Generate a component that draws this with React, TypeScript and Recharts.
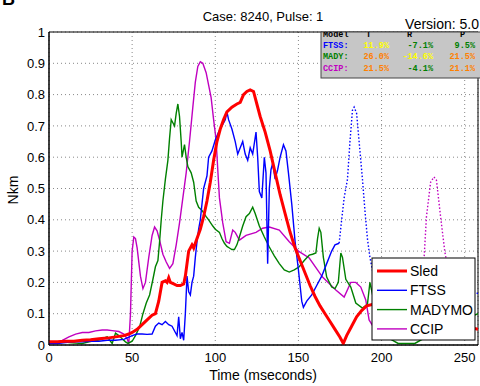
import { CartesianGrid, Line, LineChart, ReferenceArea, XAxis, YAxis } from "recharts";

// [time ms, Nkm]
const sled: [number, number][] = [
  [0, 0.01], [5, 0.01], [10, 0.012], [15, 0.012], [20, 0.015], [25, 0.017], [30, 0.02], [35, 0.022],
  [40, 0.026], [45, 0.03], [48, 0.035], [50, 0.04], [53, 0.05], [56, 0.065], [59, 0.08], [62, 0.095],
  [64, 0.1], [66, 0.14], [67, 0.17], [68, 0.2], [70, 0.205], [71, 0.2], [72, 0.215], [73, 0.2],
  [75, 0.195], [77, 0.19], [79, 0.19], [81, 0.195], [82, 0.22], [84, 0.3], [86, 0.32], [87, 0.31],
  [89, 0.34], [91, 0.37], [93, 0.41], [95, 0.46], [97, 0.52], [99, 0.59], [101, 0.65], [103, 0.69],
  [105, 0.72], [107, 0.745], [110, 0.76], [113, 0.77], [115, 0.775], [117, 0.8], [119, 0.81], [121, 0.815],
  [123, 0.81], [125, 0.77], [127, 0.73], [130, 0.68], [133, 0.62], [136, 0.55], [139, 0.48], [142, 0.42],
  [145, 0.36], [148, 0.31], [151, 0.27], [154, 0.23], [157, 0.19], [160, 0.155], [163, 0.125], [166, 0.1],
  [169, 0.075], [172, 0.05], [175, 0.025], [177, 0.005], [179, 0.03], [182, 0.06], [185, 0.09], [188, 0.11],
  [191, 0.125], [195, 0.13], [200, 0.13], [215, 0.11], [235, 0.08], [258, 0.05],
];

const ftss: [number, number][] = [
  [0, 0.005], [5, 0.005], [10, 0.008], [15, 0.01], [20, 0.01], [25, 0.012], [30, 0.012], [35, 0.015],
  [40, 0.015], [45, 0.018], [48, 0.025], [50, 0.03], [53, 0.035], [56, 0.035], [59, 0.034], [62, 0.035],
  [64, 0.06], [66, 0.07], [68, 0.065], [70, 0.075], [72, 0.065], [74, 0.06], [76, 0.04], [77, 0.03],
  [78, 0.09], [79, 0.02], [80, 0.04], [81, 0.015], [82, 0.1], [83, 0.22], [84, 0.17], [85, 0.16],
  [86, 0.2], [87, 0.22], [88, 0.28], [89, 0.33], [90, 0.37], [91, 0.4], [92, 0.45], [93, 0.5],
  [95, 0.54], [96, 0.6], [98, 0.62], [100, 0.655], [102, 0.68], [104, 0.7], [106, 0.72], [107, 0.745],
  [108, 0.72], [110, 0.69], [112, 0.65], [113.5, 0.61], [115, 0.63], [116.5, 0.65], [118, 0.61], [119.5, 0.59],
  [121, 0.63], [122.5, 0.61], [124.5, 0.68], [125.5, 0.6], [126.5, 0.49], [128, 0.47], [129.5, 0.6], [130.5, 0.55],
  [131.5, 0.26], [132.5, 0.5], [133.5, 0.56], [134.5, 0.58], [136, 0.53], [137.5, 0.56], [139, 0.6], [141, 0.64],
  [142.5, 0.62], [144, 0.55], [146, 0.45], [148, 0.33], [150, 0.24], [152, 0.14], [153, 0.12], [155, 0.14],
  [158, 0.16], [161, 0.19], [164, 0.22], [167, 0.26], [170, 0.3], [172, 0.32], [174.5, 0.325],
];

const ftssDotted: [number, number][] = [
  [174.5, 0.325], [176, 0.4], [177.5, 0.47], [179.5, 0.53], [181, 0.65], [182.5, 0.75], [183.5, 0.76],
  [185, 0.74], [186.5, 0.65], [188.5, 0.53], [190, 0.43], [191.5, 0.34], [193, 0.28], [196, 0.2],
  [200, 0.16], [230, 0.17], [258, 0.165],
];

const madymo: [number, number][] = [
  [0, 0.005], [5, 0.008], [8, 0.012], [12, 0.008], [16, 0.006], [20, 0.005], [24, 0.01], [28, 0.014],
  [30, 0.016], [32, 0.02], [35, 0.026], [37, 0.012], [38, 0.005], [40, 0.038], [42, 0.03], [44, 0.02],
  [46, 0.01], [47.5, 0.005], [50, 0.012], [52, 0.03], [54.5, 0.058], [56.5, 0.1], [58.5, 0.134], [60.5, 0.16],
  [62.5, 0.21], [64, 0.25], [65.5, 0.27], [66.5, 0.33], [67.5, 0.4], [68.5, 0.46], [70, 0.53], [71.5, 0.59],
  [72.5, 0.66], [73.5, 0.72], [74.5, 0.71], [75.5, 0.7], [76.5, 0.74], [77.5, 0.77], [78.5, 0.73], [79.5, 0.65],
  [80, 0.6], [81.5, 0.64], [82.5, 0.6], [83.5, 0.57], [85.5, 0.55], [87, 0.52], [88.5, 0.46], [90, 0.44],
  [92, 0.43], [94.5, 0.41], [96, 0.4], [98.5, 0.38], [100, 0.37], [102.5, 0.36], [104, 0.34], [105.5, 0.325],
  [107, 0.315], [108.5, 0.31], [110, 0.305], [111.5, 0.305], [113, 0.32], [114.5, 0.345], [116.5, 0.38], [118.5, 0.41],
  [120.5, 0.42], [122.5, 0.44], [124, 0.42], [126.5, 0.38], [129.5, 0.345], [132.5, 0.313], [135.5, 0.285], [138.5, 0.26],
  [141.5, 0.24], [144.5, 0.233], [147.5, 0.24], [150.5, 0.25], [153.5, 0.27], [156.5, 0.287], [158.5, 0.29], [160.5, 0.294],
  [161.5, 0.34], [162.5, 0.373], [163.5, 0.36], [165, 0.28], [167, 0.217], [170, 0.185], [172, 0.18], [174, 0.2],
  [175.5, 0.294], [176.5, 0.28], [178.5, 0.21], [181.5, 0.185], [184.5, 0.134], [188.5, 0.118], [191.5, 0.13], [193, 0.2],
  [195, 0.15], [200, 0.1], [205, 0.02], [210, 0.005], [220, 0.005], [235, 0.05], [258, 0.1],
];

const ccip: [number, number][] = [
  [0, 0.005], [4, 0.008], [8, 0.015], [12, 0.026], [16, 0.035], [20, 0.04], [24, 0.04], [28, 0.045],
  [32, 0.048], [35, 0.048], [38, 0.046], [42, 0.043], [45, 0.035], [47, 0.02], [48, 0.005], [49, 0.1],
  [50, 0.3], [51, 0.345], [52, 0.34], [53, 0.31], [55, 0.22], [56.5, 0.18], [58, 0.2], [60, 0.28],
  [62, 0.35], [63.5, 0.377], [65, 0.365], [66.5, 0.335], [68.5, 0.29], [70.5, 0.265], [72.5, 0.245], [74.5, 0.26],
  [76.5, 0.32], [78.5, 0.39], [80.5, 0.47], [82.5, 0.55], [84.5, 0.65], [86.5, 0.76], [88, 0.84], [89.5, 0.89],
  [91, 0.905], [92.5, 0.9], [94.5, 0.87], [96, 0.83], [97.5, 0.79], [99, 0.72], [100.5, 0.655], [101.5, 0.56],
  [102.5, 0.47], [104.5, 0.39], [106.5, 0.33], [108.5, 0.325], [110.5, 0.367], [112, 0.36], [114.5, 0.335], [118.5, 0.35],
  [124.5, 0.36], [128.5, 0.373], [132.5, 0.377], [138.5, 0.367], [144.5, 0.33], [150, 0.3], [156.5, 0.278], [164.5, 0.217],
  [172.5, 0.176], [177.5, 0.153], [181.5, 0.2], [184.5, 0.2], [187.5, 0.185], [190.5, 0.144], [192.5, 0.08], [196, 0.05],
  [210, 0.04], [222, 0.05],
];

const ccipDotted: [number, number][] = [
  [222, 0.05], [224, 0.15], [225.5, 0.27], [227, 0.41], [229.5, 0.52], [231.5, 0.537], [233, 0.527],
  [235.5, 0.41], [238, 0.3], [239, 0.27], [241, 0.15], [243, 0.05],
];

const xTicks = [0, 50, 100, 150, 200, 250];
const yTicks = [0, 0.1, 0.2, 0.3, 0.4, 0.5, 0.6, 0.7, 0.8, 0.9, 1];

const legendNames = ["Sled", "FTSS", "MADYMO", "CCIP"];
const legendColors = ["#ff0000", "#0000ff", "#008000", "#c000c0"];

const statModels = ["FTSS:", "MADY:", "CCIP:"];
const statT = [11.9, 26.0, 21.5];
const statR = [-7.1, -14.6, -4.1];
const statP = [9.5, 21.5, 21.1];

const toPts = (arr: [number, number][]) => arr.map(([t, v]) => ({ t, v }));

// table colour: under 10% green, under 20% yellow, otherwise orange
const statColor = (v: number) => (Math.abs(v) < 10 ? "#008000" : Math.abs(v) < 20 ? "#ffff00" : "#ff8000");

export default function App() {
  const font = "'Liberation Sans', Arial, sans-serif";
  const mono = "'Liberation Mono', 'Courier New', monospace";
  return (
    <div style={{ position: "relative", width: 480, height: 386, background: "#fff", fontFamily: font }}>
      <style>{`body{margin:0}`}</style>
      <LineChart width={480} height={386} margin={{ top: 32, right: 2, left: 0, bottom: 0 }}>
        <CartesianGrid stroke="#888" strokeDasharray="1 3" />
        <XAxis
          type="number"
          dataKey="t"
          domain={[0, 258]}
          ticks={xTicks}
          allowDataOverflow
          height={41}
          tickSize={0}
          tickMargin={8}
          axisLine={{ stroke: "#000" }}
          tick={{ fill: "#000", fontSize: 13, fontFamily: font }}
        />
        <YAxis
          type="number"
          domain={[0, 1]}
          ticks={yTicks}
          allowDataOverflow
          width={49}
          tickSize={0}
          tickMargin={4}
          axisLine={{ stroke: "#000" }}
          tick={{ fill: "#000", fontSize: 13, fontFamily: font }}
        />
        <Line data={toPts(ccip)} dataKey="v" stroke="#c000c0" strokeWidth={1.4} dot={false} isAnimationActive={false} />
        <Line data={toPts(ccipDotted)} dataKey="v" stroke="#c000c0" strokeWidth={1.4} strokeDasharray="1.5 2" dot={false} isAnimationActive={false} />
        <Line data={toPts(madymo)} dataKey="v" stroke="#008000" strokeWidth={1.4} dot={false} isAnimationActive={false} />
        <Line data={toPts(ftss)} dataKey="v" stroke="#0000ff" strokeWidth={1.4} dot={false} isAnimationActive={false} />
        <Line data={toPts(ftssDotted)} dataKey="v" stroke="#0000ff" strokeWidth={1.4} strokeDasharray="1.5 2" dot={false} isAnimationActive={false} />
        <Line data={toPts(sled)} dataKey="v" stroke="#ff0000" strokeWidth={3} dot={false} isAnimationActive={false} />
        <ReferenceArea x1={0} x2={258} y1={0} y2={1} stroke="#000" strokeWidth={1} fill="none" fillOpacity={0} />
      </LineChart>
      <svg width={480} height={386} style={{ position: "absolute", left: 0, top: 0, pointerEvents: "none" }}>
        <text x={2} y={5} fontSize={18} fontWeight="bold" fontFamily={font}>B</text>
        <text x={263} y={21} fontSize={13} textAnchor="middle" fontFamily={font}>Case: 8240, Pulse: 1</text>
        <text x={479} y={29} fontSize={14} textAnchor="end" fontFamily={font}>Version: 5.0</text>
        <text x={263} y={380} fontSize={14} textAnchor="middle" fontFamily={font}>Time (mseconds)</text>
        <text x={18} y={190} fontSize={14} textAnchor="middle" fontFamily={font} transform="rotate(-90 18 190)">Nkm</text>

        <defs>
          <clipPath id="tbl">
            <rect x={321} y={32} width={159} height={46} />
          </clipPath>
        </defs>
        <rect x={321} y={32} width={160} height={46} fill="#c6c6c6" stroke="#444" />
        <g clipPath="url(#tbl)" fontFamily={mono} fontSize={8.5} fontWeight="bold">
          <text x={323} y={37} fill="#000">Model</text>
          <text x={366} y={37} fill="#000">T</text>
          <text x={407} y={37} fill="#000">R</text>
          <text x={460} y={37} fill="#000">P</text>
          {statModels.map((m, i) => (
            <g key={m}>
              <text x={323} y={48 + i * 11.3} fill={legendColors[i + 1]}>{m}</text>
              <text x={389} y={48 + i * 11.3} textAnchor="end" fill={statColor(statT[i])}>{statT[i].toFixed(1)}%</text>
              <text x={433} y={48 + i * 11.3} textAnchor="end" fill={statColor(statR[i])}>{statR[i].toFixed(1)}%</text>
              <text x={475} y={48 + i * 11.3} textAnchor="end" fill={statColor(statP[i])}>{statP[i].toFixed(1)}%</text>
            </g>
          ))}
        </g>

        <rect x={372} y={258} width={103} height={82} fill="#fff" stroke="#000" />
        {legendNames.map((n, i) => (
          <g key={n}>
            <line x1={377} x2={407} y1={271 + i * 19.3} y2={271 + i * 19.3} stroke={legendColors[i]} strokeWidth={i === 0 ? 3 : 1.4} />
            <text x={410} y={276 + i * 19.3} fontSize={14} fontFamily={font}>{n}</text>
          </g>
        ))}
      </svg>
    </div>
  );
}
